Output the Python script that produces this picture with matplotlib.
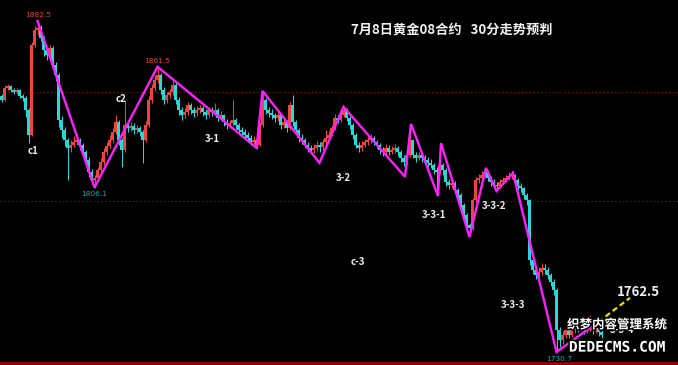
import numpy as np
import matplotlib
matplotlib.use("Agg")
import matplotlib.pyplot as plt
import matplotlib.patheffects as pe

# 30-minute gold candles (open = previous close)
first_open = 1848.0
closes = [
    1846.3, 1851.8, 1852.7, 1850.9, 1849.9, 1850.9, 1848.1, 1847.2, 1841.7, 1830.2,
    1871.5, 1878.4, 1879.3, 1874.7, 1869.2, 1866.9, 1870.1, 1862.3, 1857.7, 1837.1,
    1832.5, 1827.9, 1824.3, 1825.6, 1827.0, 1827.9, 1825.6, 1822.4, 1818.8, 1813.3,
    1809.6, 1810.5, 1814.2, 1817.8, 1822.4, 1825.2, 1827.9, 1831.6, 1836.2, 1827.9,
    1823.3, 1834.8, 1833.4, 1834.3, 1832.5, 1833.4, 1831.6, 1827.9, 1834.8, 1846.3,
    1851.8, 1855.4, 1857.7, 1850.9, 1846.3, 1848.6, 1849.9, 1853.1, 1846.3, 1841.7,
    1839.4, 1840.8, 1844.0, 1841.7, 1840.3, 1841.7, 1842.6, 1840.8, 1839.4, 1841.7,
    1840.8, 1841.7, 1838.0, 1839.4, 1836.2, 1834.8, 1835.5, 1837.1, 1834.8, 1832.5,
    1831.6, 1830.2, 1828.8, 1827.0, 1827.9, 1825.6, 1834.8, 1846.3, 1841.7, 1840.3,
    1839.4, 1838.0, 1839.4, 1834.8, 1836.2, 1833.4, 1844.0, 1836.0, 1832.5, 1828.8,
    1827.9, 1825.6, 1824.3, 1823.3, 1824.3, 1825.6, 1824.7, 1827.0, 1828.8, 1830.2,
    1833.4, 1838.0, 1837.1, 1839.4, 1841.7, 1838.0, 1834.8, 1830.2, 1825.6, 1824.3,
    1825.6, 1827.0, 1827.9, 1828.8, 1827.0, 1825.6, 1823.3, 1822.4, 1824.3, 1822.4,
    1823.3, 1824.3, 1822.4, 1819.7, 1817.8, 1821.0, 1827.9, 1821.0, 1819.7, 1821.0,
    1819.7, 1818.8, 1817.4, 1816.5, 1814.2, 1813.3, 1816.5, 1814.2, 1808.7, 1807.3,
    1808.2, 1805.0, 1802.7, 1798.1, 1793.5, 1788.9, 1787.6, 1800.4, 1809.6, 1810.5,
    1811.9, 1813.3, 1810.5, 1808.7, 1807.3, 1806.8, 1808.7, 1809.6, 1810.5, 1811.4,
    1811.9, 1809.6, 1806.8, 1805.9, 1802.7, 1800.4, 1772.9, 1768.3, 1766.0, 1767.4,
    1769.2, 1768.3, 1766.0, 1762.8, 1759.1, 1740.8, 1736.2, 1738.5, 1740.8, 1738.5,
    1740.8, 1743.1, 1741.7, 1743.1, 1740.8, 1741.7, 1743.1, 1740.8, 1741.7, 1739.9,
    1738.5,
]
highs = [
    1849.2, 1852.9, 1853.6, 1853.3, 1851.6, 1851.8, 1851.3, 1849.0, 1848.0, 1842.5,
    1873.0, 1880.0, 1882.5, 1880.5, 1875.5, 1870.5, 1871.5, 1871.0, 1863.5, 1858.5,
    1839.0, 1834.0, 1829.0, 1828.0, 1829.5, 1830.5, 1829.0, 1826.5, 1823.5, 1820.0,
    1814.5, 1812.0, 1815.5, 1819.5, 1824.0, 1827.0, 1830.0, 1833.5, 1839.4, 1837.0,
    1829.0, 1846.3, 1836.5, 1836.0, 1835.5, 1835.0, 1834.5, 1832.5, 1836.5, 1848.0,
    1853.5, 1857.5, 1861.5, 1858.5, 1852.0, 1850.0, 1851.5, 1854.8, 1854.0, 1847.5,
    1843.0, 1842.5, 1845.5, 1845.0, 1843.0, 1843.5, 1844.0, 1843.5, 1842.0, 1843.0,
    1842.8, 1844.9, 1842.5, 1841.0, 1840.0, 1837.5, 1837.0, 1846.3, 1838.0, 1835.5,
    1834.0, 1833.0, 1831.5, 1830.0, 1829.5, 1828.5, 1836.0, 1850.4, 1847.0, 1843.0,
    1842.0, 1840.5, 1841.0, 1840.0, 1838.0, 1837.0, 1845.5, 1848.6, 1837.0, 1833.5,
    1830.5, 1829.0, 1827.0, 1825.5, 1826.0, 1827.5, 1827.0, 1828.5, 1832.5, 1832.0,
    1835.0, 1840.0, 1839.5, 1841.0, 1843.1, 1842.5, 1839.0, 1835.5, 1831.0, 1827.0,
    1827.5, 1828.5, 1829.5, 1830.5, 1829.5, 1828.0, 1826.5, 1824.5, 1826.0, 1825.5,
    1825.0, 1826.0, 1825.0, 1823.5, 1821.0, 1822.5, 1835.3, 1828.5, 1822.5, 1822.5,
    1822.0, 1821.0, 1820.0, 1819.0, 1817.5, 1815.5, 1826.5, 1817.5, 1815.0, 1810.0,
    1810.0, 1809.0, 1806.0, 1803.5, 1799.0, 1794.5, 1790.0, 1801.5, 1811.0, 1812.5,
    1813.5, 1815.1, 1814.0, 1811.5, 1810.0, 1808.5, 1810.0, 1811.0, 1812.0, 1813.0,
    1813.5, 1812.5, 1810.5, 1808.0, 1806.5, 1803.5, 1801.0, 1774.5, 1770.0, 1769.5,
    1771.5, 1771.0, 1769.5, 1767.0, 1764.0, 1760.0, 1742.0, 1740.5, 1742.5, 1742.0,
    1742.5, 1745.0, 1744.5, 1746.3, 1744.0, 1743.5, 1747.7, 1744.0, 1743.0, 1742.5,
    1741.0,
]
lows = [
    1845.5, 1845.8, 1851.0, 1850.0, 1849.0, 1849.2, 1847.3, 1845.8, 1838.5, 1826.5,
    1829.5, 1870.5, 1876.0, 1873.5, 1866.5, 1864.5, 1866.0, 1860.5, 1855.0, 1834.0,
    1829.0, 1825.0, 1809.6, 1822.5, 1824.5, 1825.5, 1823.5, 1820.5, 1816.5, 1811.0,
    1807.5, 1806.1, 1809.0, 1813.0, 1816.5, 1821.0, 1824.0, 1826.5, 1830.5, 1825.5,
    1815.5, 1822.5, 1831.5, 1832.0, 1830.5, 1831.0, 1829.5, 1817.4, 1827.0, 1834.0,
    1845.0, 1850.5, 1854.0, 1849.0, 1844.5, 1845.0, 1847.0, 1848.5, 1844.5, 1839.5,
    1837.1, 1838.0, 1839.5, 1840.0, 1838.5, 1839.0, 1840.5, 1839.0, 1837.5, 1838.5,
    1839.0, 1839.5, 1836.5, 1837.0, 1834.5, 1833.0, 1833.5, 1834.5, 1833.0, 1830.5,
    1830.0, 1828.5, 1827.0, 1825.5, 1826.0, 1824.3, 1825.0, 1834.0, 1840.0, 1838.5,
    1837.5, 1836.0, 1836.5, 1833.0, 1833.5, 1831.5, 1832.5, 1834.5, 1830.5, 1827.0,
    1826.0, 1824.0, 1822.5, 1821.5, 1822.0, 1823.0, 1822.4, 1823.5, 1826.0, 1827.5,
    1829.5, 1832.5, 1835.5, 1836.0, 1838.5, 1836.5, 1833.0, 1828.5, 1824.0, 1822.5,
    1823.0, 1824.5, 1825.5, 1826.5, 1825.5, 1824.0, 1821.5, 1820.5, 1821.0, 1821.0,
    1821.5, 1822.0, 1820.5, 1818.0, 1816.0, 1816.5, 1820.0, 1819.5, 1818.0, 1818.5,
    1818.0, 1817.0, 1815.5, 1815.0, 1812.5, 1805.0, 1812.5, 1812.0, 1807.0, 1805.5,
    1806.0, 1803.5, 1801.0, 1796.5, 1791.5, 1787.0, 1785.3, 1786.5, 1799.5, 1808.0,
    1809.0, 1810.5, 1809.0, 1807.0, 1806.0, 1805.0, 1806.0, 1807.5, 1808.5, 1809.5,
    1810.0, 1808.0, 1805.0, 1804.0, 1801.0, 1798.0, 1770.5, 1766.5, 1764.0, 1764.5,
    1766.0, 1766.5, 1764.0, 1761.0, 1757.0, 1730.7, 1733.0, 1734.5, 1737.0, 1737.0,
    1737.5, 1739.5, 1740.0, 1740.5, 1739.0, 1739.5, 1740.5, 1739.0, 1739.5, 1738.0,
    1737.0,
]

# wave pivots (candle index, price)
wave_idx = [12, 31, 52, 85, 87, 106, 114, 134.5, 136.5, 145.5, 146.5, 156, 161.5, 165, 170.5, 185, 199]
wave_price = [1882.5, 1806.1, 1861.5, 1824.3, 1850.4, 1817.4, 1843.1, 1811.0, 1835.3,
              1802.2, 1826.5, 1783.4, 1815.1, 1804.5, 1812.8, 1730.7, 1744.5]
forecast_idx = [199, 209.5]
forecast_price = [1744.5, 1755.5]

# price tags at the extremes
tag_text = ["1882.5", "1861.5", "1806.1", "1730.7"]
tag_idx = [12.2, 51.8, 30.8, 185.8]
tag_price = [1885.2, 1864.2, 1803.2, 1727.5]
tag_color = ["#e0403a", "#e0403a", "#1fa8a8", "#1fa8a8"]

# wave names
wave_text = ["c1", "c2", "3-1", "3-2", "c-3", "3-3-1", "3-3-2", "3-3-3", "3-3-4"]
wave_text_idx = [10.5, 39.8, 70.2, 113.8, 118.8, 144.2, 164.2, 170.5, 206.8]
wave_text_price = [1822.9, 1846.7, 1828.4, 1810.5, 1772.0, 1793.5, 1797.7, 1752.3, 1740.8]

grid_prices = [1850, 1800]
target_text = "1762.5"
title_text = "7月8日黄金08合约   30分走势预判"

plt.rcParams["font.family"] = ["Noto Sans CJK SC", "DejaVu Sans"]

fig = plt.figure(figsize=(6.78, 3.65), dpi=100, facecolor="black")
ax = fig.add_axes([0, 0, 1, 1])
ax.set_facecolor("black")
ax.set_xlim(-0.5, 225.5)
ax.set_ylim(1724.7, 1892.1)
ax.axis("off")

for level in grid_prices:
    ax.axhline(level, color="#7a1010", linewidth=0.7, linestyle=(0, (1.5, 2.5)))
ax.axhline(1725.6, color="#a00000", linewidth=2.0)

c = np.array(closes)
o = np.concatenate([[first_open], c[:-1]])
h = np.array(highs)
l = np.array(lows)
x = np.arange(len(c))
up = c >= o
colors = np.where(up, "#f0443a", "#27d8d8")

ax.vlines(x, l, h, colors=colors, linewidth=0.75, zorder=2)
ax.bar(x, np.maximum(np.abs(c - o), 0.4), bottom=np.minimum(o, c), width=0.78,
       color=colors, linewidth=0, zorder=3)

ax.plot(wave_idx, wave_price, color="#ff1eff", linewidth=1.7, zorder=4, solid_joinstyle="miter")
ax.plot(forecast_idx, forecast_price, color="#e8e000", linewidth=1.6,
        linestyle=(0, (2.5, 1.5)), zorder=4)

for txt, xi, yi, col in zip(tag_text, tag_idx, tag_price, tag_color):
    ax.text(xi, yi, txt, color=col, fontsize=5.3, ha="center", va="center",
            family=["DejaVu Sans"], zorder=5)

for txt, xi, yi in zip(wave_text, wave_text_idx, wave_text_price):
    ax.text(xi, yi, txt, color="#eeeeee", fontsize=7, fontweight="bold",
            ha="center", va="center", zorder=5)

ax.text(212.2, 1758.2, target_text, color="#eeeeee", fontsize=9.5, fontweight="bold",
        ha="center", va="center", zorder=5)

fig.text(0.667, 0.918, title_text, color="#f2f2f2", fontsize=9.5, fontweight="bold",
         ha="center", va="center")

# site watermark in the corner (covers the 3-3-4 tag, as in the original)
outline = [pe.withStroke(linewidth=2.2, foreground="black")]
fig.text(0.910, 0.110, "织梦内容管理系统", color="white", fontsize=9, fontweight="bold",
         ha="center", va="center", path_effects=outline, zorder=10)
fig.text(0.910, 0.049, "DEDECMS.COM", color="white", fontsize=10.5, fontweight="bold",
         family=["DejaVu Sans Mono"], ha="center", va="center", path_effects=outline, zorder=10)

fig.savefig("out.png", dpi=100, facecolor="black")
